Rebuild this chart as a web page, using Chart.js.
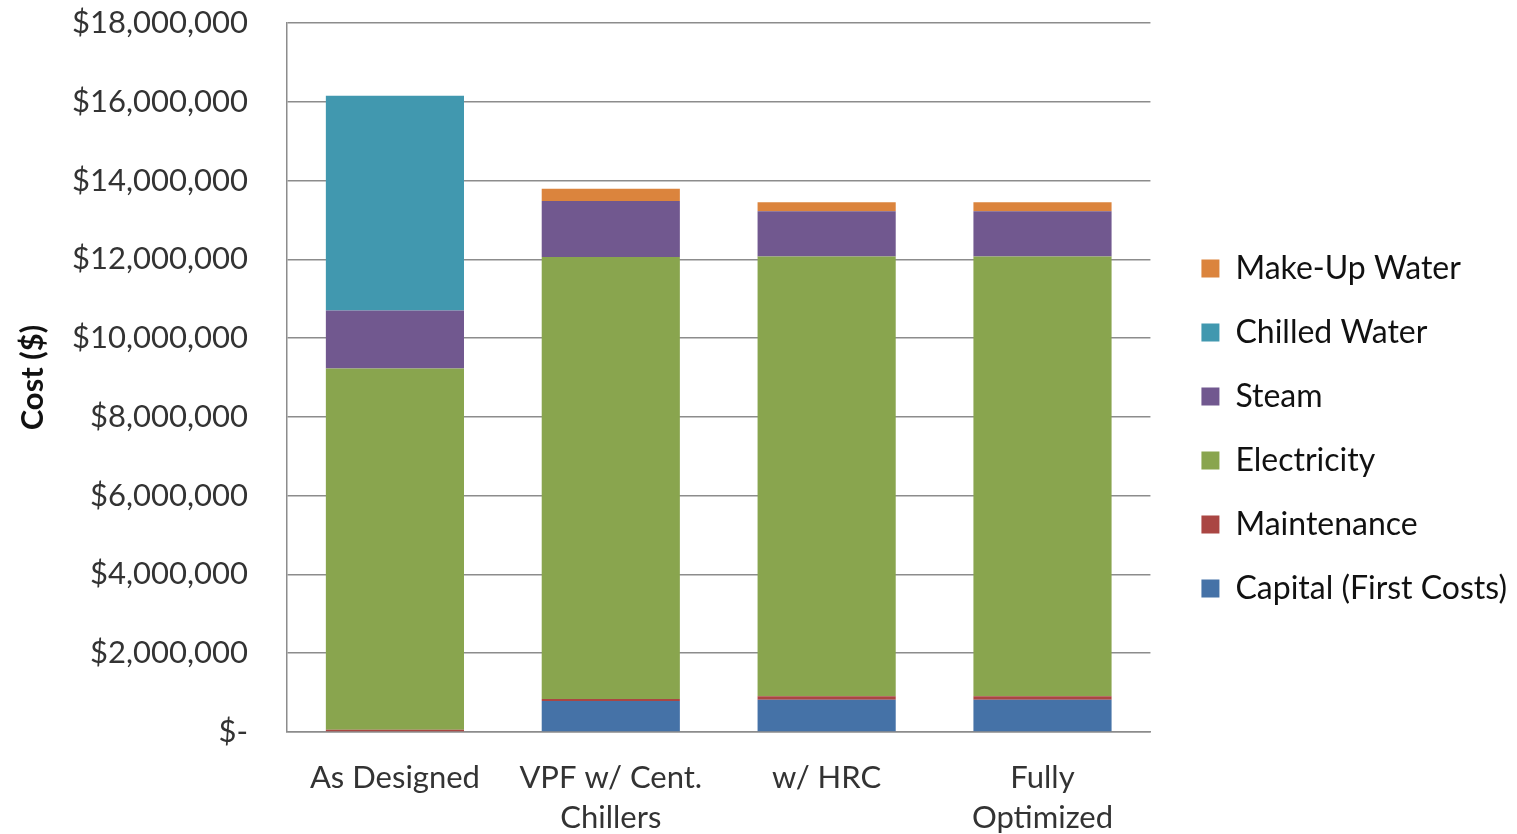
<!DOCTYPE html>
<html>
<head>
<meta charset="utf-8">
<script src="https://cdn.jsdelivr.net/npm/chart.js@4.4.1/dist/chart.umd.min.js"></script>
<style>
  html, body { margin: 0; padding: 0; background: #fff; }
  #wrap { width: 1517px; height: 834px; position: relative; }
</style>
</head>
<body>
<div id="wrap"><canvas id="costChart"></canvas></div>
<script>
const scenarios = ["As Designed", ["VPF w/ Cent.", "Chillers"], "w/ HRC", ["Fully", "Optimized"]];

const capital     = [0,        790000,   820000,   820000];
const maintenance = [60000,    50000,    90000,    90000];
const electricity = [9170000,  11220000, 11160000, 11160000];
const steam       = [1470000,  1420000,  1150000,  1150000];
const chilledWater= [5450000,  0,        0,        0];
const makeUpWater = [0,        310000,   230000,   230000];

const yTicks = [0, 2000000, 4000000, 6000000, 8000000, 10000000, 12000000, 14000000, 16000000, 18000000];

const FONT = "Lato, 'Open Sans', sans-serif";

function money(v) {
  if (v === 0) return "$-";
  return "$" + v.toLocaleString("en-US");
}

const data = {
  labels: scenarios,
  datasets: [
    { label: "Capital (First Costs)", data: capital, backgroundColor: "#4572A7" },
    { label: "Maintenance", data: maintenance, backgroundColor: "#AA4643" },
    { label: "Electricity", data: electricity, backgroundColor: "#89A54E" },
    { label: "Steam", data: steam, backgroundColor: "#71588F" },
    { label: "Chilled Water", data: chilledWater, backgroundColor: "#4198AF" },
    { label: "Make-Up Water", data: makeUpWater, backgroundColor: "#DB843D" }
  ]
};

const options = {
  responsive: true,
  maintainAspectRatio: false,
  animation: false,
  layout: { padding: { top: 23, right: 0, left: 0, bottom: 0 } },
  datasets: {
    bar: { categoryPercentage: 1, barPercentage: 0.64, borderWidth: 0 }
  },
  plugins: {
    tooltip: { enabled: false },
    legend: {
      position: "right",
      reverse: true,
      maxWidth: 420,
      labels: {
        boxWidth: 18,
        boxHeight: 18,
        padding: 32,
        color: "#111",
        font: { family: FONT, size: 32 }
      }
    }
  },
  scales: {
    x: {
      stacked: true,
      grid: { display: false, drawTicks: false },
      border: { color: "#8c8c8c", width: 1.5 },
      ticks: {
        color: "#333",
        padding: 26,
        maxRotation: 0,
        autoSkip: false,
        font: { family: FONT, size: 31, lineHeight: 1.3 }
      },
      afterFit: (scale) => { scale.height = 102; }
    },
    y: {
      stacked: true,
      min: 0,
      max: 18000000,
      afterBuildTicks: (scale) => { scale.ticks = yTicks.map(v => ({ value: v })); },
      grid: { color: "#8c8c8c", lineWidth: 1.5, drawTicks: false },
      border: { color: "#8c8c8c", width: 1.5 },
      ticks: {
        color: "#333",
        padding: 39,
        font: { family: FONT, size: 31 },
        callback: (v) => money(v)
      },
      title: {
        display: true,
        text: "Cost ($)",
        color: "#111",
        padding: { top: 14, bottom: 0 },
        font: { family: FONT, size: 31, weight: "bold" }
      },
      afterFit: (scale) => {
        scale.width = 287;
        scale.paddingTop = 0;
        scale.paddingBottom = 0;
      }
    },
    // empty spacer between the plot and the legend
    gap: {
      type: "linear",
      position: "right",
      display: true,
      grid: { display: false },
      border: { display: false },
      ticks: { display: false },
      afterFit: (scale) => { scale.width = 19; }
    }
  }
};

new Chart(document.getElementById("costChart"), { type: "bar", data, options });
</script>
</body>
</html>
